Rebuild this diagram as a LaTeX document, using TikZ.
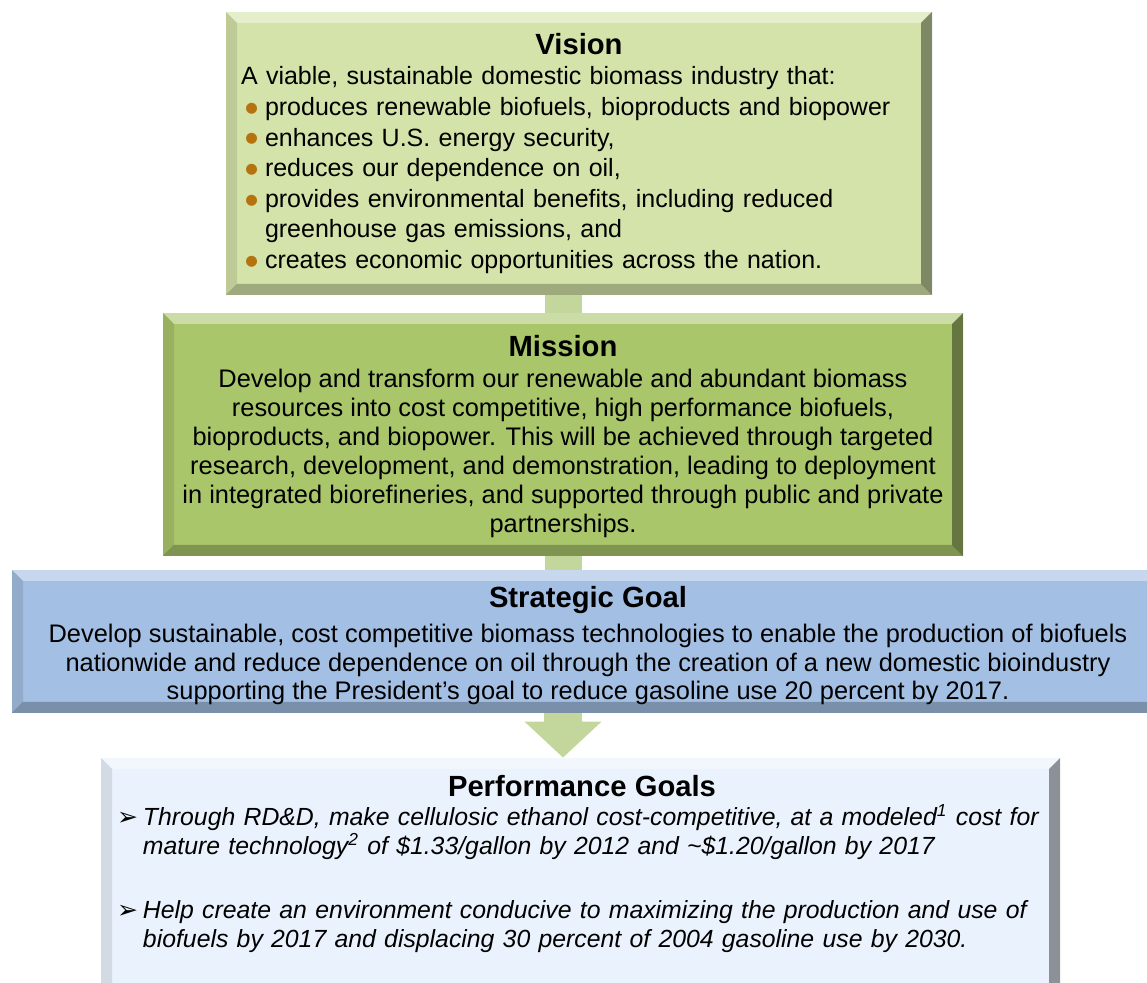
\documentclass[tikz,border=0pt]{standalone}
\usepackage{fontspec}
\setmainfont{Liberation Sans}
\newfontfamily\dingfont{DejaVu Sans}
\usepackage{tikz}
\usetikzlibrary{arrows.meta,positioning}
\definecolor{visionG}{HTML}{D4E3A9}
\definecolor{missionG}{HTML}{A9C66B}
\definecolor{goalB}{HTML}{A3BFE3}
\definecolor{perfB}{HTML}{EAF3FD}
\definecolor{linkG}{HTML}{C3D69B}
\definecolor{dotO}{HTML}{B5730F}
\newcommand{\headfont}{\fontsize{14.6}{17}\selectfont\bfseries}

\begin{document}
\begin{tikzpicture}[
  x=0.5pt, y=-0.5pt,
  font=\fontsize{12.5}{15.3}\selectfont,
  bevel/.style={path picture={
      \coordinate (sw) at (path picture bounding box.south west);
      \coordinate (ne) at (path picture bounding box.north east);
      \coordinate (nw) at (path picture bounding box.north west);
      \coordinate (se) at (path picture bounding box.south east);
      \fill[white, opacity=.4] (nw) -- (ne) -- ([shift={(-#1,-#1)}]ne) -- ([shift={(#1,-#1)}]nw) -- cycle;
      \fill[black, opacity=.1] (nw) -- (sw) -- ([shift={(#1,#1)}]sw) -- ([shift={(#1,-#1)}]nw) -- cycle;
      \fill[black, opacity=.25] (sw) -- (se) -- ([shift={(-#1,#1)}]se) -- ([shift={(#1,#1)}]sw) -- cycle;
      \fill[black, opacity=.4] (se) -- (ne) -- ([shift={(-#1,-#1)}]ne) -- ([shift={(-#1,#1)}]se) -- cycle;
  }},
  box/.style={fill=#1, inner sep=0pt, align=center, bevel=5.5pt},
  link/.style={draw=linkG, line width=18.5pt},
  arr/.style={draw=linkG, line width=19pt, -{Triangle[length=18pt, width=37.5pt]}}
]
\useasboundingbox (0,0) rectangle (1147,983);
\clip (0,0) rectangle (1147,983);

% ---- vision ----
\node[box=visionG, minimum width=353pt, minimum height=141.5pt,
      text width=338pt, align=left] (vision) at (579,153.5)
  {{\centering\headfont Vision\par}
   A viable, sustainable domestic biomass industry that:
   \begin{list}{\textcolor{dotO}{\raisebox{1.6pt}{\dingfont\fontsize{7.2}{7.2}\selectfont ●}}}{\setlength{\leftmargin}{12pt}%
     \setlength{\labelsep}{3.5pt}\setlength{\topsep}{0pt}\setlength{\partopsep}{0pt}%
     \setlength{\itemsep}{0pt}\setlength{\parsep}{0pt}}
   \item produces renewable biofuels, bioproducts and biopower
   \item enhances U.S. energy security,
   \item reduces our dependence on oil,
   \item provides environmental benefits, including reduced\\greenhouse gas emissions, and
   \item creates economic opportunities across the nation.
   \end{list}};

% ---- mission ----
\node[box=missionG, minimum width=400pt, minimum height=121.5pt,
      font=\fontsize{12.7}{14.5}\selectfont] (mission) at (563,434.5)
  {\rule{0pt}{12.5pt}{\headfont Mission}\\[1pt]
   Develop and transform our renewable and abundant biomass\\
   resources into cost competitive, high performance biofuels,\\
   bioproducts, and biopower. This will be achieved through targeted\\
   research, development, and demonstration, leading to deployment\\
   in integrated biorefineries, and supported through public and private\\
   partnerships.};

% ---- strategic goal ----
\node[box=goalB, minimum width=576pt, minimum height=71.5pt,
      font=\fontsize{12.7}{14.3}\selectfont] (goal) at (588,641.5)
  {\rule{0pt}{14.7pt}{\headfont Strategic Goal}\\[3.5pt]
   Develop sustainable, cost competitive biomass technologies to enable the production of biofuels\\
   nationwide and reduce dependence on oil through the creation of a new domestic bioindustry\\
   supporting the President’s goal to reduce gasoline use 20 percent by 2017.};

% ---- performance goals ----
\node[box=perfB, minimum width=479.5pt, minimum height=118.5pt] (perf) at (580.5,876.5) {};
\node[anchor=north west, text width=464pt, align=left, inner sep=0pt,
      font=\fontsize{12.4}{14.6}\selectfont] (perftxt) at ([shift={(17,17)}]perf.north west)
  {{\centering\headfont Performance Goals\par}
   \begin{list}{\upshape\dingfont\fontsize{12.5}{12}\selectfont ➢}{\setlength{\leftmargin}{12.5pt}%
     \setlength{\labelsep}{2.5pt}\setlength{\topsep}{0pt}\setlength{\partopsep}{0pt}%
     \setlength{\itemsep}{17.5pt}\setlength{\parsep}{0pt}}\itshape
   \item Through RD\&D, make cellulosic ethanol cost-competitive, at a modeled\textsuperscript{1} cost for\\
     mature technology\textsuperscript{2} of \$1.33/gallon by 2012 and \textasciitilde\$1.20/gallon by 2017
   \item Help create an environment conducive to maximizing the production and use of\\
     biofuels by 2017 and displacing 30 percent of 2004 gasoline use by 2030.
   \end{list}};

% connectors
\draw[link] (vision.south -| mission.north) -- (mission.north);
\draw[link] (mission.south) -- (goal.north -| mission.south);
\draw[arr] (goal.south -| mission.south) -- (perf.north -| mission.south);
\end{tikzpicture}
\end{document}
